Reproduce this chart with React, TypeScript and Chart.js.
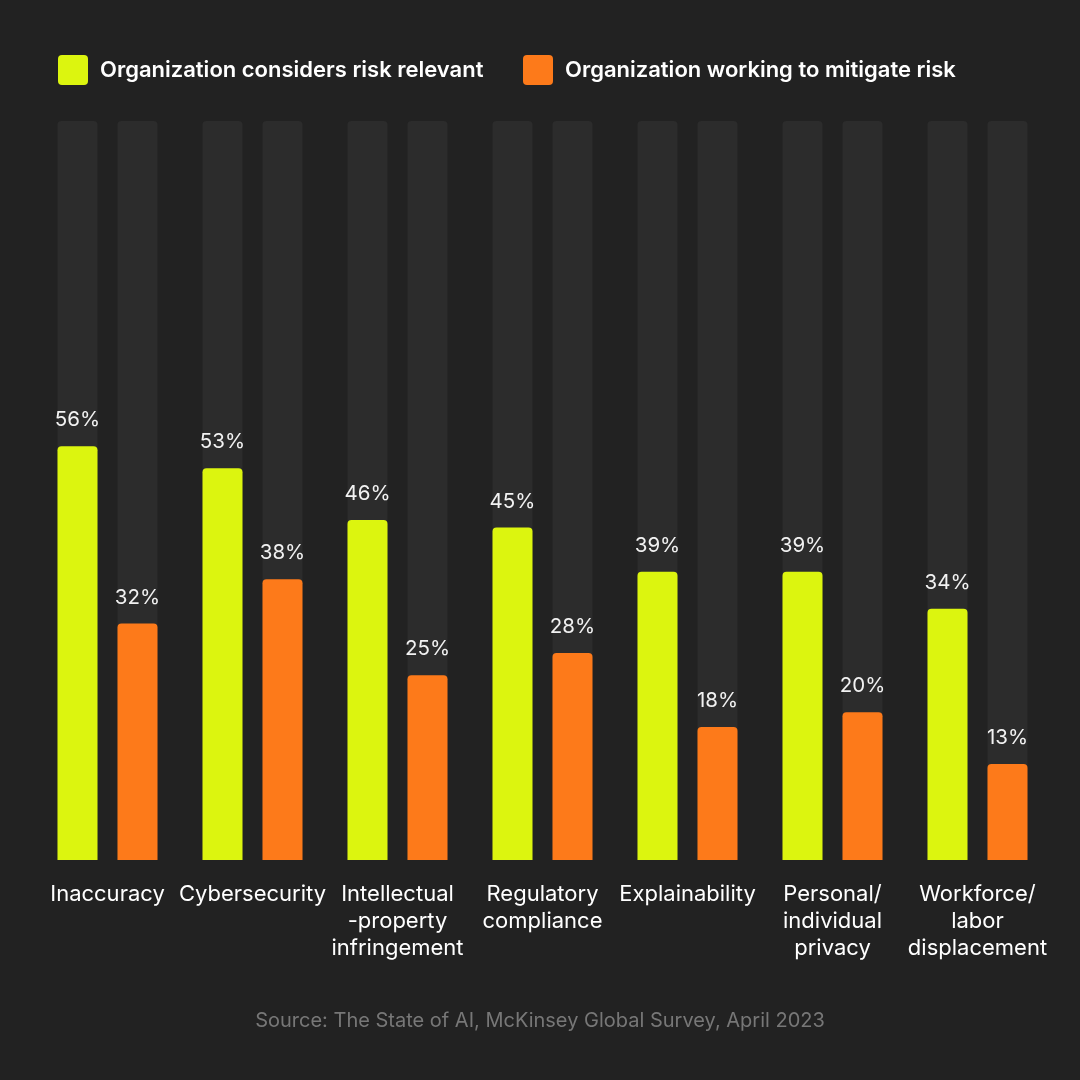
import React, { useEffect, useRef } from "react";
import { Chart, registerables } from "chart.js";

Chart.register(...registerables);

const categories: (string | string[])[] = [
  "Inaccuracy",
  "Cybersecurity",
  ["Intellectual", "-property", "infringement"],
  ["Regulatory", "compliance"],
  "Explainability",
  ["Personal/", "individual", "privacy"],
  ["Workforce/", "labor", "displacement"],
];
const relevant = [56, 53, 46, 45, 39, 39, 34];
const mitigating = [32, 38, 25, 28, 18, 20, 13];
const track = [100, 100, 100, 100, 100, 100, 100];
const seriesNames = ["Organization considers risk relevant", "Organization working to mitigate risk"];
const sourceText = "Source: The State of AI, McKinsey Global Survey, April 2023";

const GREEN = "#dcf50f";
const ORANGE = "#fd7a1a";
const TRACK = "#2c2c2c";
const BG = "#222222";
const FONT = "Inter, 'Noto Sans', sans-serif";

export default function App() {
  const ref = useRef<HTMLCanvasElement>(null);
  useEffect(() => {
    if (!ref.current) return;
    const overlay = {
      id: "overlay",
      afterDatasetsDraw(chart: any) {
        const ctx = chart.ctx;
        ctx.save();
        ctx.fillStyle = "#f2f2f2";
        ctx.font = `400 20.5px ${FONT}`;
        ctx.textAlign = "center";
        ctx.textBaseline = "middle";
        [1, 3].forEach((di) => {
          const meta = chart.getDatasetMeta(di);
          const ds = chart.data.datasets[di];
          meta.data.forEach((bar: any, i: number) => {
            ctx.fillText(ds.data[i] + "%", bar.x, bar.y - 26);
          });
        });
        ctx.restore();
      },
      afterDraw(chart: any) {
        const ctx = chart.ctx;
        ctx.save();
        const items = [
          { x: 58, color: GREEN, text: seriesNames[0] },
          { x: 523, color: ORANGE, text: seriesNames[1] },
        ];
        ctx.font = `600 22px ${FONT}`;
        ctx.textBaseline = "middle";
        ctx.textAlign = "left";
        items.forEach((it) => {
          ctx.fillStyle = it.color;
          ctx.beginPath();
          ctx.roundRect(it.x, 55, 30, 30, 4);
          ctx.fill();
          ctx.fillStyle = "#ffffff";
          ctx.fillText(it.text, it.x + 42, 70);
        });
        ctx.font = `400 20px ${FONT}`;
        ctx.fillStyle = "#777777";
        ctx.textAlign = "center";
        ctx.fillText(sourceText, 540, 1021);
        ctx.restore();
      },
    };
    const barOpts = {
      borderRadius: { topLeft: 4, topRight: 4, bottomLeft: 0, bottomRight: 0 },
      borderSkipped: false as any,
      categoryPercentage: 0.8276,
      barPercentage: 0.667,
    };
    const chart = new Chart(ref.current, {
      type: "bar",
      data: {
        labels: categories,
        datasets: [
          { label: "trackA", data: track, backgroundColor: TRACK, stack: "a", order: 2, ...barOpts },
          { label: seriesNames[0], data: relevant, backgroundColor: GREEN, stack: "a", order: 1, ...barOpts },
          { label: "trackB", data: track, backgroundColor: TRACK, stack: "b", order: 2, ...barOpts },
          { label: seriesNames[1], data: mitigating, backgroundColor: ORANGE, stack: "b", order: 1, ...barOpts },
        ],
      },
      options: {
        responsive: false,
        animation: false,
        layout: { padding: { top: 121, left: 35, right: 30, bottom: 0 } },
        plugins: { legend: { display: false }, tooltip: { enabled: false } },
        scales: {
          x: {
            stacked: true,
            grid: { display: false },
            border: { display: false },
            ticks: {
              color: "#ffffff",
              font: { family: FONT, size: 22, lineHeight: 1.23 },
              padding: 13,
              maxRotation: 0,
              autoSkip: false,
            },
            afterFit(scale: any) {
              scale.height = 220;
            },
          },
          y: { stacked: false, display: false, min: 0, max: 100 },
        },
      },
      plugins: [overlay],
    });
    return () => chart.destroy();
  }, []);
  return (
    <div style={{ position: "fixed", left: 0, top: 0, width: 1080, height: 1080, background: BG }}>
      <canvas ref={ref} width={1080} height={1080} style={{ display: "block" }} />
    </div>
  );
}
